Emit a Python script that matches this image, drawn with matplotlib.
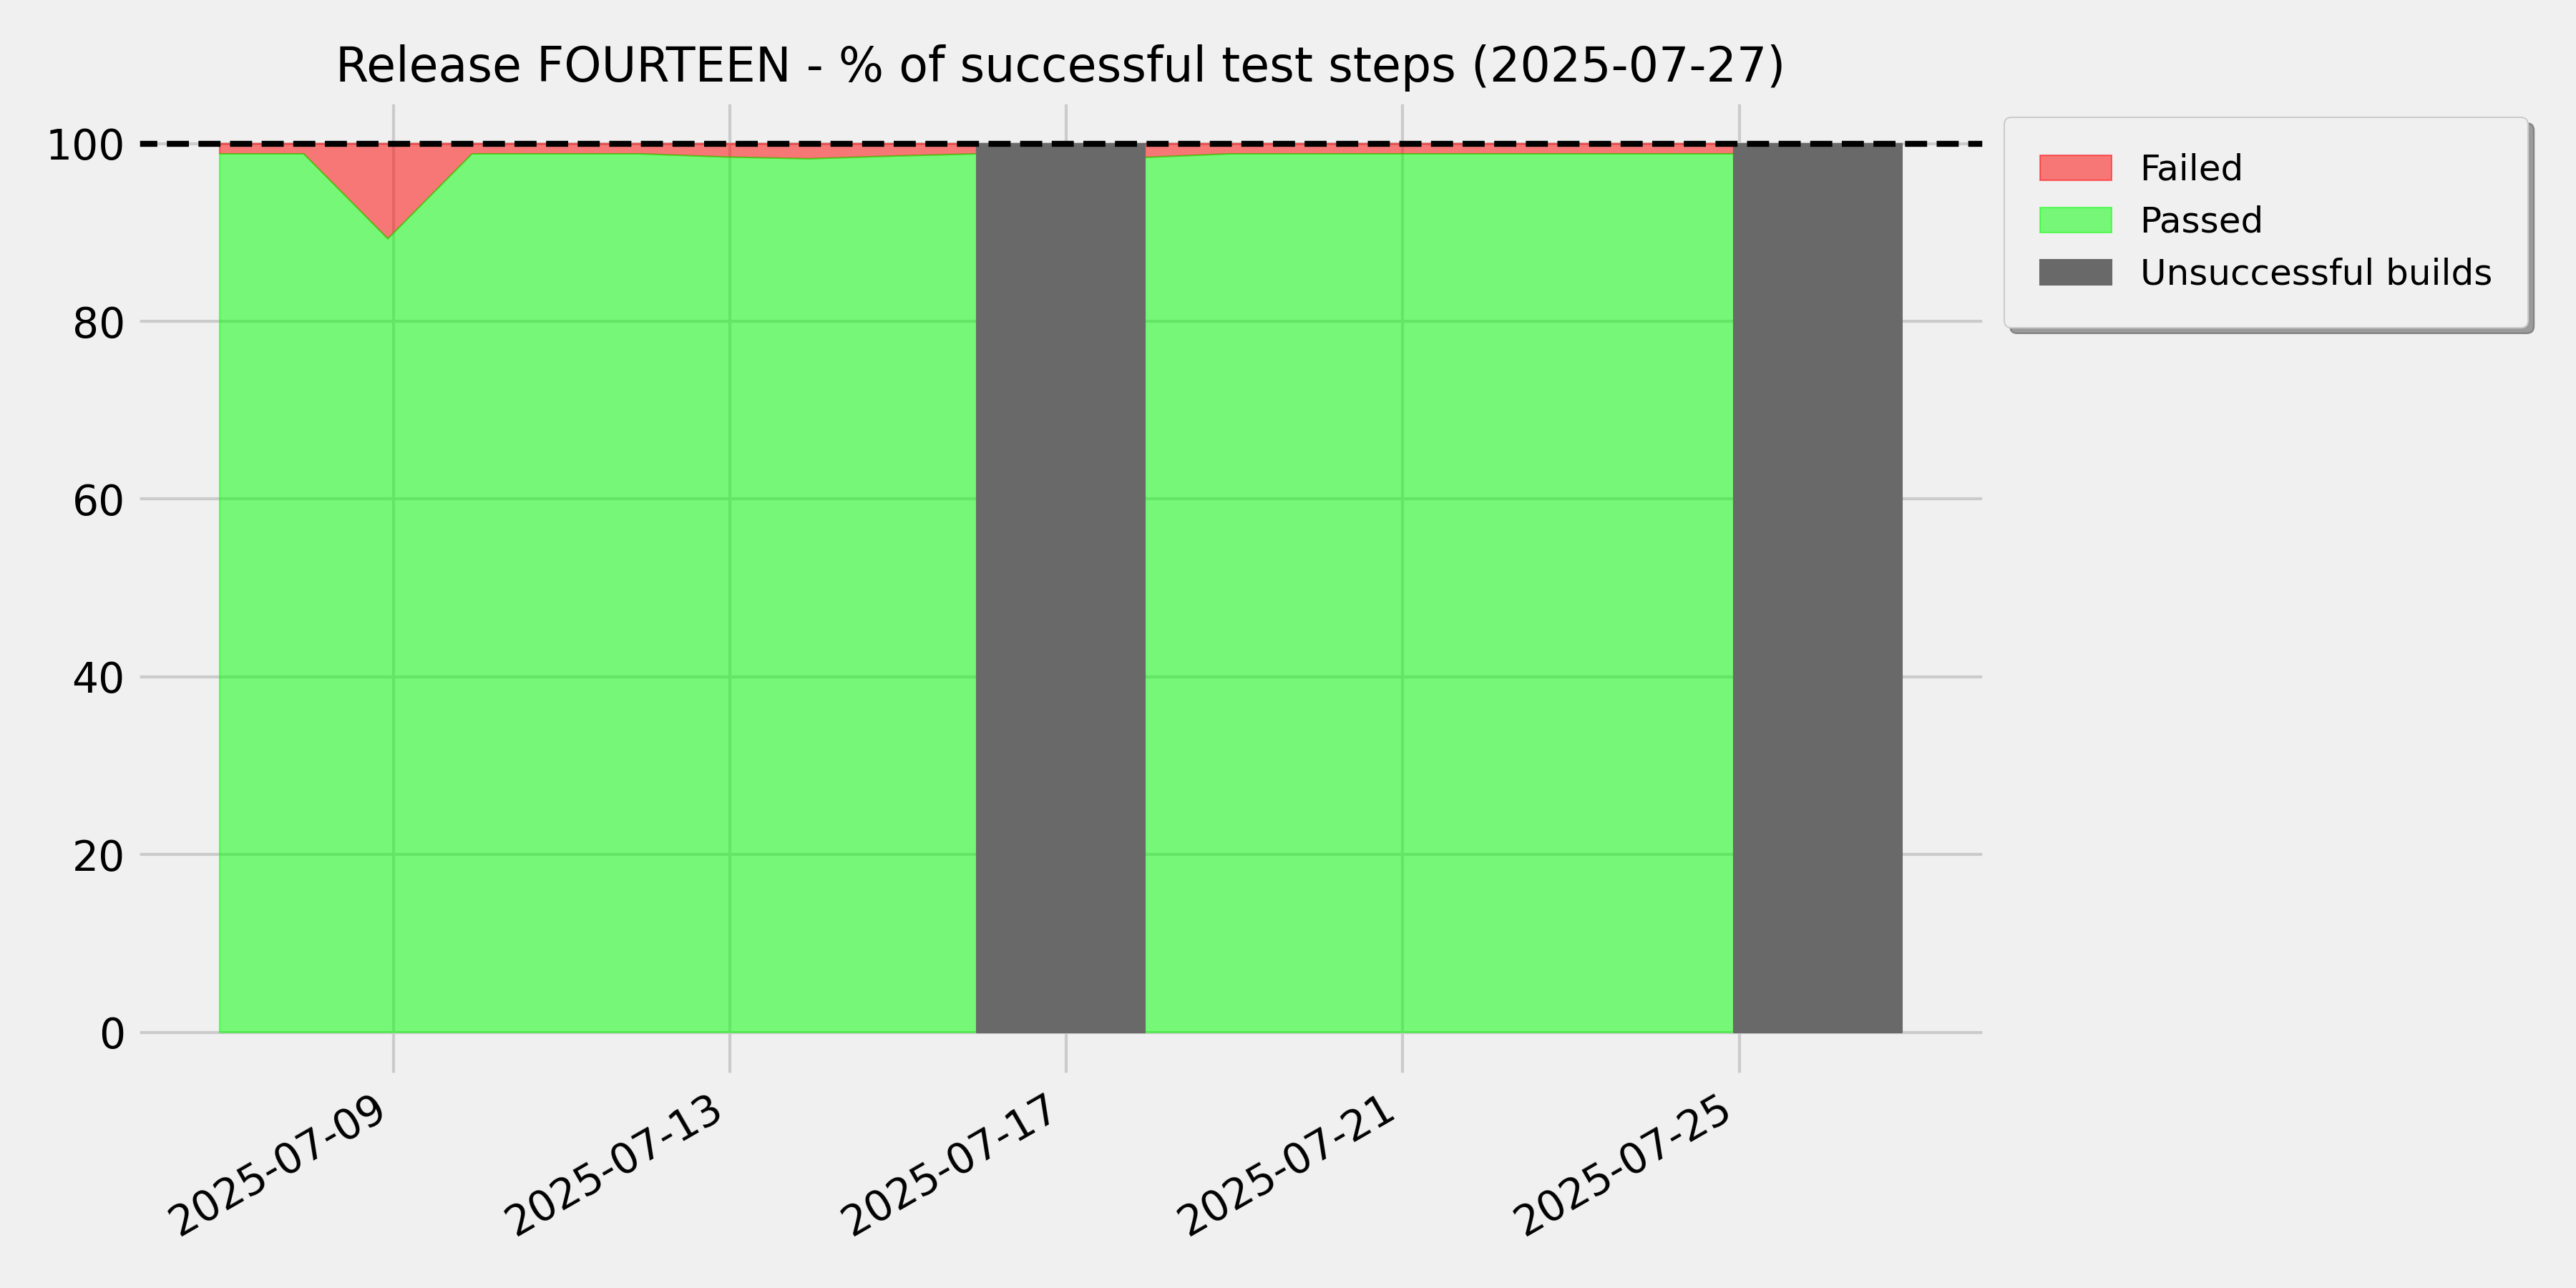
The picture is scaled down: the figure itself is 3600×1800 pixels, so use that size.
import datetime as dt
import numpy as np
import pandas as pd
import matplotlib
matplotlib.use("Agg")
import matplotlib.pyplot as plt
import matplotlib.dates as mdates

plt.style.use("fivethirtyeight")

release = "FOURTEEN"
report_date = "2025-07-27"

# nightly runs (timestamps of each test run)
dates = pd.date_range("2025-07-06 22:25", periods=20, freq="D")
# % of passed test steps per run, NaN where the build failed
passed = [98.85, 98.85, 89.3, 98.85, 98.85, 98.85, 98.5, 98.3, 98.6, 98.85,
          np.nan, 98.45, 98.85, 98.85, 98.85, 98.85, 98.85, 98.85, 98.85, np.nan]

df = pd.DataFrame({"passed": passed}, index=dates)
failed_builds = df.index[df["passed"].isna()]

fig, ax = plt.subplots(figsize=(12, 6))

ax.fill_between(df.index, df["passed"], 100, color="red", alpha=0.5, label="Failed")
ax.fill_between(df.index, 0, df["passed"], color="lime", alpha=0.5, label="Passed")

one_day = dt.timedelta(days=1)
for i, d in enumerate(failed_builds):
    ax.fill_between([d - one_day, d + one_day], 0, 100, color="dimgray",
                    label="Unsuccessful builds" if i == 0 else None)

ax.axhline(100, color="black", linestyle="--", linewidth=2)

ax.xaxis.set_major_locator(mdates.DayLocator(bymonthday=range(1, 32, 4)))
ax.xaxis.set_major_formatter(mdates.DateFormatter("%Y-%m-%d"))
fig.autofmt_xdate()
fig.subplots_adjust(left=0.0526, right=0.771, top=0.923, bottom=0.164)

ax.set_title(f"Release {release} - % of successful test steps ({report_date})",
             fontsize=16)
ax.legend(loc="upper left", bbox_to_anchor=(1, 1), fontsize=12,
          borderpad=1.0, shadow=True)

fig.savefig("out.png", dpi=300)
